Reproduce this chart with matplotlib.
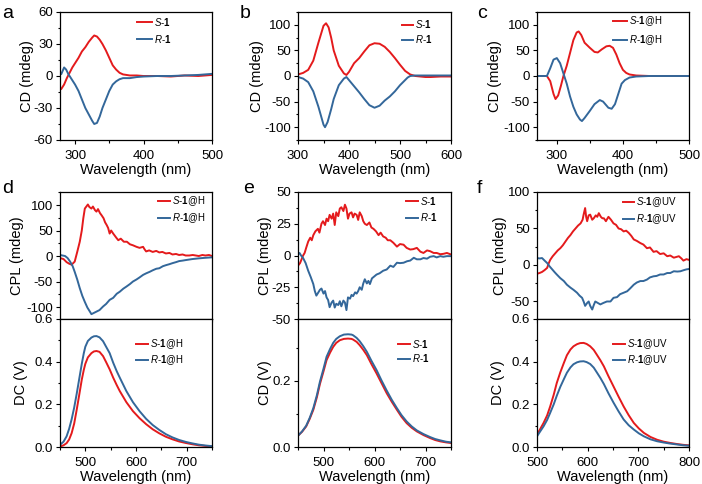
import matplotlib
matplotlib.use("Agg")
import matplotlib.pyplot as plt
from matplotlib.ticker import MultipleLocator

plt.rcParams['font.family'] = ['Liberation Sans', 'DejaVu Sans']
plt.rcParams['mathtext.fontset'] = 'custom'
plt.rcParams['mathtext.rm'] = 'Liberation Sans'
plt.rcParams['mathtext.it'] = 'Liberation Sans:italic'
plt.rcParams['mathtext.bf'] = 'Liberation Sans:bold'
plt.rcParams['axes.unicode_minus'] = False

RED = '#E41A1C'
BLUE = '#33679A'

# a: CD de S-1 / R-1
a_x_s = [280, 284, 288, 292, 296, 300, 305, 310, 315, 320, 325, 328, 332, 336, 340, 345, 350, 355, 360, 365, 370, 375, 380, 390, 400, 420, 440, 460, 480, 500]
a_y_s = [-12, -8, -2, 3, 8, 12, 17, 23, 27, 32, 36, 38, 37, 34, 30, 24, 17, 10, 6, 3, 1.5, 1, 0.5, 0.5, 0, 0, -0.5, 0.5, 0, 1]
a_x_r = [280, 284, 287, 290, 295, 300, 305, 310, 315, 320, 325, 328, 332, 336, 340, 345, 350, 355, 360, 365, 370, 380, 390, 400, 420, 440, 460, 480, 500]
a_y_r = [2, 8, 6, 2, -3, -8, -14, -22, -30, -36, -42, -45, -44, -38, -30, -22, -14, -8, -5, -3, -2, -2, -1, -0.5, 0, 0, 0.5, 1, 2]

# b
b_x_s = [300, 310, 320, 330, 340, 350, 355, 360, 365, 370, 380, 390, 395, 400, 410, 420, 430, 440, 450, 460, 470, 480, 490, 500, 510, 520, 530, 540, 550, 560, 580, 600]
b_y_s = [3, 6, 12, 30, 65, 98, 103, 95, 75, 50, 20, 5, 2, 8, 25, 35, 48, 60, 64, 63, 57, 47, 35, 22, 10, 3, 0, -1, -2, -2, -1, -1]
b_x_r = [300, 310, 320, 330, 340, 350, 353, 358, 365, 370, 380, 390, 395, 400, 410, 420, 430, 440, 450, 460, 470, 480, 490, 500, 510, 515, 520, 530, 540, 560, 600]
b_y_r = [-2, -5, -12, -30, -60, -95, -100, -90, -65, -45, -18, -5, -2, -8, -20, -32, -45, -57, -62, -58, -48, -40, -30, -18, -8, -3, 0, 1, 1, 1, 1]

# c
c_x_s = [270, 285, 290, 295, 298, 302, 306, 310, 315, 320, 325, 330, 333, 337, 342, 350, 357, 362, 368, 375, 380, 385, 390, 395, 400, 405, 410, 420, 440, 500]
c_y_s = [0, 0, -10, -35, -45, -38, -20, 0, 20, 45, 70, 85, 87, 80, 65, 55, 47, 46, 52, 58, 59, 55, 42, 25, 12, 6, 3, 1, 0, 0]
c_x_r = [270, 285, 290, 295, 300, 305, 310, 315, 320, 325, 330, 335, 338, 342, 350, 357, 365, 370, 378, 383, 388, 393, 398, 403, 410, 420, 440, 500]
c_y_r = [0, 0, 15, 32, 35, 25, 5, -15, -40, -60, -75, -85, -88, -82, -68, -55, -47, -50, -62, -64, -55, -35, -15, -8, -3, -1, 0, 0]

# d: CPL y DC
d_x_s = [450, 457, 463, 468, 473, 479, 484, 489, 493, 496, 499, 502, 505, 508, 512, 515, 519, 522, 525, 529, 532, 536, 539, 542, 545, 548, 551, 555, 558, 561, 565, 570, 576, 582, 588, 594, 601, 607, 614, 617, 620, 626, 633, 640, 646, 652, 659, 666, 672, 679, 685, 692, 698, 705, 712, 718, 724, 731, 737, 744, 750]
d_y_s = [-4, -6, -12, -15, -17, -11, 8, 28, 50, 74, 93, 97, 101, 96, 93, 97, 90, 87, 92, 84, 80, 74, 66, 61, 55, 44, 50, 44, 40, 36, 31, 34, 28, 28, 23, 21, 18, 16, 18, 13, 9, 11, 8, 10, 7, 8, 5, 6, 3, 4, 2, 3, 1, 1, 2, 1, 0, 2, 1, 2, 0]
d_x_r = [450, 455, 460, 465, 470, 475, 479, 484, 489, 494, 499, 504, 509, 512, 516, 522, 528, 535, 541, 548, 555, 562, 568, 575, 581, 588, 594, 601, 607, 614, 620, 627, 633, 640, 646, 653, 659, 666, 672, 679, 685, 692, 698, 711, 724, 737, 750]
d_y_r = [2, 1, 0, -4, -11, -20, -31, -46, -63, -78, -90, -101, -109, -114, -112, -109, -106, -99, -94, -86, -82, -74, -70, -64, -60, -55, -50, -46, -42, -37, -34, -31, -28, -25, -24, -20, -18, -16, -14, -12, -10, -9, -8, -6, -4.6, -3.5, -2.6]
d_dcx = [450, 457, 463, 468, 473, 478, 483, 488, 493, 497, 500, 505, 512, 517, 522, 528, 535, 541, 548, 555, 562, 568, 581, 594, 607, 620, 633, 646, 659, 672, 685, 698, 711, 724, 737, 750]
d_dc_s = [0.002, 0.008, 0.018, 0.035, 0.065, 0.11, 0.175, 0.245, 0.316, 0.362, 0.39, 0.42, 0.44, 0.448, 0.45, 0.446, 0.426, 0.398, 0.364, 0.325, 0.29, 0.262, 0.21, 0.168, 0.135, 0.107, 0.083, 0.064, 0.048, 0.036, 0.026, 0.019, 0.013, 0.008, 0.005, 0.003]
d_dc_r = [0.01, 0.025, 0.05, 0.085, 0.13, 0.185, 0.25, 0.32, 0.39, 0.44, 0.47, 0.497, 0.513, 0.519, 0.52, 0.514, 0.496, 0.47, 0.44, 0.395, 0.355, 0.325, 0.262, 0.21, 0.168, 0.132, 0.103, 0.08, 0.06, 0.045, 0.033, 0.024, 0.017, 0.011, 0.007, 0.004]

# e: CPL y DC
e_x_s = [450, 454, 457, 460, 463, 466, 470, 474, 477, 480, 484, 489, 492, 496, 499, 503, 506, 509, 512, 516, 519, 522, 525, 529, 532, 535, 539, 542, 545, 548, 551, 555, 558, 561, 565, 568, 571, 575, 578, 581, 585, 590, 594, 598, 603, 608, 612, 617, 622, 626, 631, 637, 644, 650, 657, 663, 670, 676, 683, 690, 696, 703, 709, 716, 722, 729, 735, 742, 750]
e_y_s = [-8, -6, -3, 0, 2, 6, 11, 14, 12, 16, 19, 21, 18, 25, 27, 24, 29, 27, 32, 29, 33, 24, 34, 31, 37, 38, 35, 40, 37, 29, 33, 34, 30, 33, 32, 28, 34, 31, 27, 25, 24, 26, 22, 21, 19, 16, 18, 15, 14, 12, 12, 10, 7, 9, 8.5, 6, 4.7, 5, 6, 3, 2, 4, 3.4, 2, 2, 1, 1.3, 2, 0.8]
e_x_r = [450, 453, 456, 460, 465, 470, 475, 480, 483, 486, 490, 493, 496, 500, 503, 506, 509, 512, 516, 519, 522, 525, 529, 532, 535, 539, 542, 545, 548, 552, 555, 558, 562, 565, 568, 571, 575, 578, 581, 585, 588, 591, 595, 598, 604, 610, 617, 624, 631, 637, 644, 650, 657, 664, 670, 677, 683, 690, 696, 703, 709, 716, 722, 729, 735, 742, 750]
e_y_r = [0.8, 2, 0, -2, -6, -12, -17, -22.5, -28, -31.6, -29, -27, -26, -30, -28, -33, -35, -40.7, -37, -35.5, -41, -38, -39, -36, -40, -35.5, -37, -43, -33, -34, -31, -32, -29, -30, -28, -25, -27, -22, -18.7, -22, -20, -22.5, -18, -17, -15, -14, -12, -11, -8, -9, -5.7, -6, -5.7, -4.5, -4, -1.8, -3, -3, -2, -2.5, -1, -0.5, -1.5, -0.5, -1, -0.5, -0.5]
e_dcx = [450, 458, 466, 473, 480, 487, 493, 500, 506, 513, 519, 525, 532, 540, 548, 555, 558, 565, 571, 578, 585, 594, 604, 614, 624, 634, 644, 653, 663, 673, 683, 696, 709, 719, 729, 740, 750]
e_dc_s = [0.034, 0.046, 0.062, 0.085, 0.112, 0.15, 0.19, 0.228, 0.262, 0.285, 0.302, 0.314, 0.322, 0.326, 0.327, 0.326, 0.324, 0.317, 0.307, 0.293, 0.277, 0.25, 0.222, 0.192, 0.162, 0.136, 0.112, 0.091, 0.072, 0.058, 0.047, 0.036, 0.027, 0.021, 0.017, 0.014, 0.012]
e_dc_r = [0.034, 0.047, 0.064, 0.088, 0.117, 0.156, 0.197, 0.236, 0.272, 0.296, 0.314, 0.326, 0.334, 0.339, 0.34, 0.339, 0.337, 0.329, 0.319, 0.304, 0.287, 0.26, 0.232, 0.2, 0.17, 0.142, 0.117, 0.096, 0.077, 0.062, 0.05, 0.039, 0.03, 0.024, 0.02, 0.016, 0.014]

# f: CPL y DC
f_x_s = [500, 505, 510, 515, 520, 523, 526, 531, 536, 541, 546, 551, 556, 561, 566, 571, 576, 581, 586, 590, 592, 595, 597, 599, 602, 605, 609, 612, 616, 619, 622, 626, 629, 632, 636, 641, 646, 651, 656, 661, 666, 671, 676, 681, 686, 691, 697, 704, 710, 717, 723, 730, 736, 743, 750, 757, 763, 770, 775, 780, 785, 789, 795, 800]
f_y_s = [-12, -11, -9.5, -7, -4, 2, 7, 12, 16, 20, 23, 27, 32, 37, 41, 46, 50, 54, 57, 62, 69, 78, 66, 60, 68, 69, 62, 64, 68, 66, 71, 66, 64, 64, 60, 66, 62, 57, 55, 50, 49, 46, 47, 44, 40, 35, 33, 30, 28, 23, 24, 18, 19, 15, 16, 12, 13, 10, 11, 12, 9, 6, 8, 7]
f_x_r = [500, 505, 510, 515, 520, 525, 530, 535, 539, 546, 553, 559, 566, 572, 579, 584, 589, 592, 595, 599, 602, 605, 609, 612, 615, 620, 625, 631, 638, 645, 651, 658, 664, 671, 678, 684, 691, 697, 704, 710, 717, 723, 730, 736, 743, 750, 757, 763, 770, 777, 783, 790, 795, 800]
f_y_r = [9.5, 9, 9.5, 6, 2.7, -2, -6, -10, -13, -18, -22, -27, -31, -34, -38, -42, -45, -50, -56, -52, -50, -56, -61, -55, -50, -52, -54, -52, -50, -50, -45, -44, -40, -38, -36, -32, -27, -24, -22, -22, -20, -17, -15.5, -15, -13, -13, -11, -11, -8.6, -9, -8.6, -7, -6, -5.5]
f_dcx = [500, 506, 513, 520, 526, 533, 539, 546, 553, 559, 566, 572, 579, 585, 592, 598, 605, 612, 618, 625, 632, 641, 651, 661, 671, 681, 691, 701, 711, 724, 737, 750, 763, 776, 789, 800]
f_dc_s = [0.058, 0.083, 0.113, 0.148, 0.19, 0.245, 0.3, 0.35, 0.394, 0.43, 0.457, 0.472, 0.482, 0.487, 0.488, 0.483, 0.472, 0.455, 0.433, 0.407, 0.378, 0.332, 0.284, 0.236, 0.19, 0.149, 0.113, 0.087, 0.066, 0.047, 0.034, 0.025, 0.019, 0.014, 0.01, 0.008]
f_dc_r = [0.05, 0.072, 0.097, 0.127, 0.16, 0.2, 0.24, 0.282, 0.318, 0.348, 0.373, 0.388, 0.397, 0.401, 0.402, 0.398, 0.389, 0.372, 0.35, 0.324, 0.295, 0.252, 0.208, 0.167, 0.129, 0.102, 0.082, 0.064, 0.05, 0.036, 0.027, 0.021, 0.016, 0.012, 0.008, 0.006]

W, H = 702, 484
fig = plt.figure(figsize=(W / 100, H / 100), dpi=100)


def caja(l, t, r, b):
    return [l / W, 1 - b / H, (r - l) / W, (b - t) / H]


def estilo(ax, xmaj, xmin, ymaj, ymin, xlabels=True):
    ax.xaxis.set_major_locator(MultipleLocator(xmaj))
    ax.xaxis.set_minor_locator(MultipleLocator(xmin))
    ax.yaxis.set_major_locator(MultipleLocator(ymaj))
    ax.yaxis.set_minor_locator(MultipleLocator(ymin))
    ax.tick_params(which='both', direction='out', top=False, right=False, width=0.8, labelsize=9.5)
    ax.tick_params(which='major', length=3.2)
    ax.tick_params(axis='y', which='major', pad=2)
    ax.tick_params(axis='x', which='major', pad=4)
    ax.tick_params(which='minor', length=1.8)
    for s in ax.spines.values():
        s.set_linewidth(0.9)
    if not xlabels:
        ax.tick_params(axis='x', labelbottom=False)
    else:
        ax.set_xlabel('Wavelength (nm)', fontsize=10.5, labelpad=0.5)


def ylab(ax, texto, xpix, l, r):
    ax.set_ylabel(texto, fontsize=10.5, va='center')
    ax.yaxis.set_label_coords((xpix - l) / (r - l), 0.5)


def leyenda(ax, x, y, esp, hl):
    ax.legend(loc='upper left', bbox_to_anchor=(x / W, 1 - (y - 5.5) / H),
              bbox_transform=fig.transFigure, frameon=False, fontsize=7,
              borderpad=0, borderaxespad=0, labelspacing=esp,
              handlelength=hl, handletextpad=0.25)


def lab(n, s=''):
    return r'$\mathit{' + n + r'}$-$\mathbf{1}$' + s


lw = 1.4

# a
ax = fig.add_axes(caja(60, 12, 212, 140))
ax.plot(a_x_s, a_y_s, color=RED, lw=lw, label=lab('S'))
ax.plot(a_x_r, a_y_r, color=BLUE, lw=lw, label=lab('R'))
ax.set_xlim(278, 500)
ax.set_ylim(-60, 60)
estilo(ax, 100, 50, 30, 15)
ylab(ax, 'CD (mdeg)', 27, 60, 212)
leyenda(ax, 137, 21, 0.55, 1.5)

# b
ax = fig.add_axes(caja(298, 12, 451, 140))
ax.plot(b_x_s, b_y_s, color=RED, lw=lw, label=lab('S'))
ax.plot(b_x_r, b_y_r, color=BLUE, lw=lw, label=lab('R'))
ax.set_xlim(300, 600)
ax.set_ylim(-125, 125)
estilo(ax, 100, 50, 50, 25)
ylab(ax, 'CD (mdeg)', 257, 298, 451)
leyenda(ax, 402, 24, 0.25, 1.1)

# c
ax = fig.add_axes(caja(537, 12, 689, 140))
ax.plot(c_x_s, c_y_s, color=RED, lw=lw, label=lab('S', '@H'))
ax.plot(c_x_r, c_y_r, color=BLUE, lw=lw, label=lab('R', '@H'))
ax.set_xlim(270, 500)
ax.set_ylim(-125, 125)
estilo(ax, 100, 50, 50, 25)
ylab(ax, 'CD (mdeg)', 495, 537, 689)
leyenda(ax, 613, 20, 0.5, 1.4)

# d
ax = fig.add_axes(caja(60, 192, 212, 319))
ax.plot(d_x_s, d_y_s, color=RED, lw=lw, label=lab('S', '@H'))
ax.plot(d_x_r, d_y_r, color=BLUE, lw=lw, label=lab('R', '@H'))
ax.set_xlim(450, 750)
ax.set_ylim(-123.5, 125.5)
estilo(ax, 100, 50, 50, 25, xlabels=False)
ylab(ax, 'CPL (mdeg)', 17, 60, 212)
leyenda(ax, 158, 200, 0.3, 1.2)

ax = fig.add_axes(caja(60, 319, 212, 447))
ax.plot(d_dcx, d_dc_s, color=RED, lw=lw, label=lab('S', '@H'))
ax.plot(d_dcx, d_dc_r, color=BLUE, lw=lw, label=lab('R', '@H'))
ax.set_xlim(450, 750)
ax.set_ylim(0, 0.6)
estilo(ax, 100, 50, 0.2, 0.1)
ylab(ax, 'DC (V)', 21, 60, 212)
leyenda(ax, 136, 343, 0.25, 1.2)

# e
ax = fig.add_axes(caja(298, 192, 451, 319))
ax.plot(e_x_s, e_y_s, color=RED, lw=lw, label=lab('S'))
ax.plot(e_x_r, e_y_r, color=BLUE, lw=lw, label=lab('R'))
ax.set_xlim(450, 750)
ax.set_ylim(-50, 50)
estilo(ax, 100, 50, 25, 12.5, xlabels=False)
ylab(ax, 'CPL (mdeg)', 265, 298, 451)
leyenda(ax, 406, 200, 0.5, 1.2)

ax = fig.add_axes(caja(298, 319, 451, 447))
ax.plot(e_dcx, e_dc_s, color=RED, lw=lw, label=lab('S'))
ax.plot(e_dcx, e_dc_r, color=BLUE, lw=lw, label=lab('R'))
ax.set_xlim(450, 750)
ax.set_ylim(0, 0.386)
estilo(ax, 100, 50, 0.2, 0.1)
ylab(ax, 'CD (V)', 265, 298, 451)
leyenda(ax, 398, 343, 0.25, 1.2)

# f
ax = fig.add_axes(caja(537, 192, 689, 319))
ax.plot(f_x_s, f_y_s, color=RED, lw=lw, label=lab('S', '@UV'))
ax.plot(f_x_r, f_y_r, color=BLUE, lw=lw, label=lab('R', '@UV'))
ax.set_xlim(500, 800)
ax.set_ylim(-74, 100)
estilo(ax, 100, 50, 50, 25, xlabels=False)
ylab(ax, 'CPL (mdeg)', 500, 537, 689)
leyenda(ax, 623, 201, 0.3, 1.1)

ax = fig.add_axes(caja(537, 319, 689, 447))
ax.plot(f_dcx, f_dc_s, color=RED, lw=lw, label=lab('S', '@UV'))
ax.plot(f_dcx, f_dc_r, color=BLUE, lw=lw, label=lab('R', '@UV'))
ax.set_xlim(500, 800)
ax.set_ylim(0, 0.6)
estilo(ax, 100, 50, 0.2, 0.1)
ylab(ax, 'DC (V)', 498, 537, 689)
leyenda(ax, 613, 343, 0.25, 1.2)

# letras de panel
for letra, x, y in [('a', 2, 18), ('b', 240, 18), ('c', 477, 18),
                    ('d', 2, 193), ('e', 243, 193), ('f', 477, 193)]:
    fig.text(x / W, 1 - y / H, letra, fontsize=14, ha='left', va='baseline')

fig.savefig('out.png', dpi=100)
